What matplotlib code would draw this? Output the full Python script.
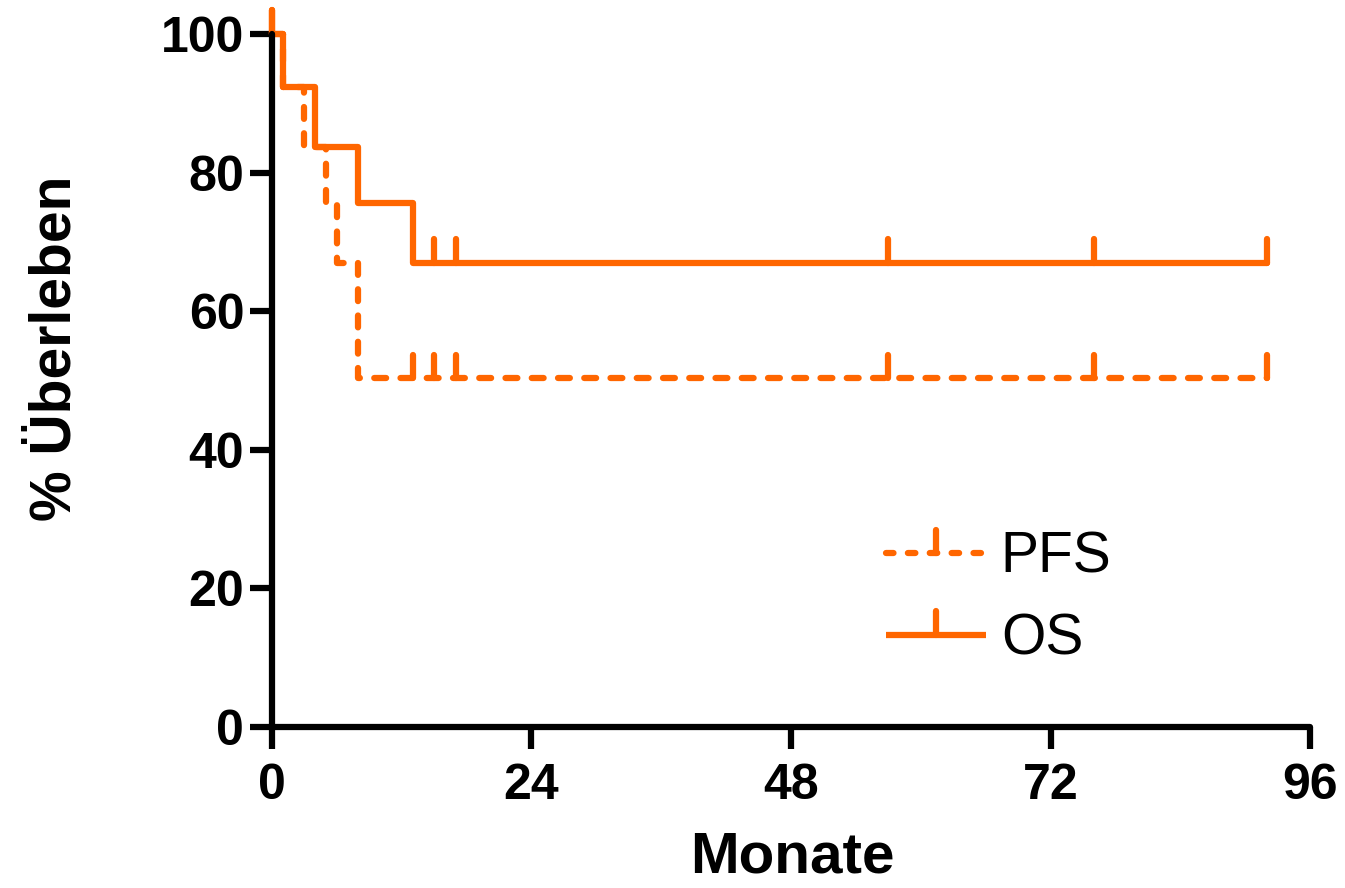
import matplotlib
matplotlib.use("Agg")
import matplotlib.pyplot as plt
import numpy as np

plt.rcParams['font.family'] = ['Liberation Sans', 'DejaVu Sans']

# Data (Kaplan-Meier step curves)
pfs_times = [0, 1, 3, 5, 6, 8, 92]
pfs_surv = [100, 92.3, 83.7, 75.6, 67.0, 50.3, 50.3]
pfs_censor_times = [0, 13, 15, 17, 57, 76, 92]

os_times = [0, 1, 4, 8, 13, 92]
os_surv = [100, 92.3, 83.7, 75.6, 67.0, 67.0]
os_censor_times = [0, 15, 17, 57, 76, 92]

xticks = [0, 24, 48, 72, 96]
yticks = [0, 20, 40, 60, 80, 100]

color = '#FF6600'
lw = 4.5
dash = (0, (1.9, 2.3))

fig = plt.figure(figsize=(13.45, 8.88), dpi=100)
ax = fig.add_axes([0.2022, 0.1813, 0.7718, 0.7804])

def surv_at(times, surv, t):
    idx = np.searchsorted(times, t, side='right') - 1
    return surv[idx]

tick_h = 3.4

# PFS dashed
ax.step(pfs_times, pfs_surv, where='post', color=color, lw=lw,
        linestyle=dash, dash_capstyle='round', clip_on=False)
for t in pfs_censor_times:
    s = surv_at(pfs_times, pfs_surv, t)
    ax.plot([t, t], [s, s + tick_h], color=color, lw=lw, solid_capstyle='round', clip_on=False)

# OS solid
ax.step(os_times, os_surv, where='post', color=color, lw=lw,
        solid_capstyle='round', solid_joinstyle='round', clip_on=False)
for t in os_censor_times:
    s = surv_at(os_times, os_surv, t)
    ax.plot([t, t], [s, s + tick_h], color=color, lw=lw, solid_capstyle='round', clip_on=False)

ax.set_xlim(0, 96)
ax.set_ylim(0, 100)
ax.set_xticks(xticks)
ax.set_yticks(yticks)
for sp in ['top', 'right']:
    ax.spines[sp].set_visible(False)
for sp in ['left', 'bottom']:
    ax.spines[sp].set_linewidth(4.5)
    ax.spines[sp].set_capstyle('round')
ax.tick_params(axis='both', direction='out', length=16, width=4.5, labelsize=36)
ax.tick_params(axis='x', pad=10)
ax.tick_params(axis='y', pad=4)
for lab in ax.get_xticklabels() + ax.get_yticklabels():
    lab.set_fontweight('bold')

ax.set_xlabel('Monate', fontsize=42, fontweight='bold')
ax.set_ylabel('% Überleben', fontsize=41, fontweight='bold')
ax.xaxis.set_label_coords(0.501, -0.189)
ax.yaxis.set_label_coords(-0.209, 0.547)
ax.xaxis.label.set_va('center')
ax.yaxis.label.set_va('center')

# Legend drawn manually in data coords
lx0, lx1 = 56.8, 66.0
for yv, ls in [(25.1, (0, (1.2, 2.3))), (13.3, '-')]:
    ax.plot([lx0, lx1], [yv, yv], color=color, lw=lw, linestyle=ls,
            dash_capstyle='round', solid_capstyle='butt', clip_on=False)
    xm = (lx0 + lx1) / 2
    ax.plot([xm, xm], [yv, yv + tick_h], color=color, lw=lw, solid_capstyle='round')
ax.text(67.4, 24.4, 'PFS', fontsize=41, va='center', ha='left')
ax.text(67.4, 12.6, 'OS', fontsize=41, va='center', ha='left')

fig.savefig('out.png', dpi=100)
